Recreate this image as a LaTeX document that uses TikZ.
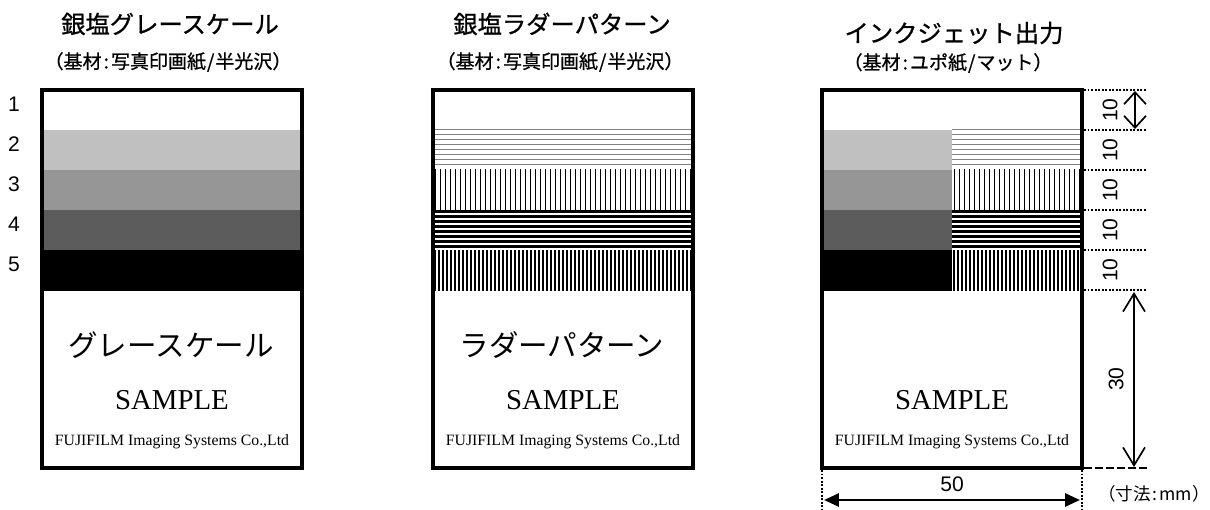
\documentclass[tikz,border=0pt]{standalone}
\usepackage{fontspec}
\usetikzlibrary{arrows.meta}
\newfontfamily\jpfont[FakeBold=0.8]{Noto Sans CJK JP}
\newfontfamily\jpplain{Noto Sans CJK JP}
\newfontfamily\numfont{Liberation Sans}
\newfontfamily\smpfont{Liberation Serif}
\definecolor{graylight}{HTML}{C0C0C0}
\definecolor{graymid}{HTML}{969696}
\definecolor{graydark}{HTML}{5C5C5C}
\definecolor{ladgray}{HTML}{808080}
\newlength\px
\setlength\px{0.025cm}
\newcommand{\half}[1]{\makebox[0.5em]{#1}}

% ladder pattern between x=#1 and x=#2
\newcommand{\ladder}[2]{%
  \begin{scope}
    \clip (#1,129) rectangle (#2,291);
    \foreach \k in {0,...,7}
      \draw[ladgray, line width=1\px] (#1,129.5+5*\k) -- (#2,129.5+5*\k);
    \foreach \k in {0,...,60}
      \draw[line width=1.2\px] (#1+2.5+5*\k,169) -- ++(0,41);
    \foreach \k in {0,...,7}
      \draw[line width=2.5\px] (#1,211.5+5*\k) -- (#2,211.5+5*\k);
    \foreach \k in {0,...,70}
      \draw[line width=2\px] (#1+2+4*\k,250) -- ++(0,41);
  \end{scope}}

\begin{document}
\begin{tikzpicture}[x=0.025cm, y=-0.025cm,
  titletext/.style={font=\jpfont\fontsize{17.3}{20}\selectfont},
  subtext/.style={font=\jpfont\fontsize{13.5}{16}\selectfont},
  unittext/.style={font=\jpplain\fontsize{12.5}{15}\selectfont, inner sep=0pt},
  numtext/.style={font=\numfont\fontsize{15}{18}\selectfont},
  dimtext/.style={font=\numfont\fontsize{15}{18}\selectfont, rotate=90},
  sheettext/.style={font=\jpplain\fontsize{21}{24}\selectfont},
  sampletext/.style={font=\smpfont\fontsize{20.5}{24}\selectfont},
  makertext/.style={font=\smpfont\fontsize{11.2}{13}\selectfont},
  frame/.style={line width=2.4pt},
  dotline/.style={line width=1.9pt, dash pattern=on 1.4pt off 1.1pt},
  dashline/.style={line width=1.5pt, dash pattern=on 5.7pt off 2.1pt},
  openarrow/.style={{Straight Barb[length=8.5pt,width=15.6pt]}-{Straight Barb[length=8.5pt,width=15.6pt]}, line width=1.2pt},
  longarrow/.style={{Straight Barb[length=12.8pt,width=15.6pt]}-{Straight Barb[length=12.8pt,width=15.6pt]}, line width=1.2pt},
  fillarrow/.style={{Triangle[length=10.6pt,width=9.2pt]}-{Triangle[length=10.6pt,width=9.2pt]}, line width=1.9pt}]
  \useasboundingbox (0,0) rectangle (1210,509);

  % Define sheet dimensions
  \def\boxtop{90}
  \def\boxbot{468}
  \def\bandh{40}

  % Titles
  \node[titletext] (t1) at (170,24) {銀塩グレースケール};
  \node[subtext] (s1) at (168,62) {（基材\half{:}写真印画紙\half{/}半光沢）};
  \node[titletext] (t2) at (562,24) {銀塩ラダーパターン};
  \node[subtext] (s2) at (560,62) {（基材\half{:}写真印画紙\half{/}半光沢）};
  \node[titletext] (t3) at (954,33) {インクジェット出力};
  \node[subtext] (s3) at (948,63) {（基材\half{:}ユポ紙\half{/}マット）};

  % Step numbers
  \foreach \k in {1,...,5}
    \node[numtext] (n\k) at (14,64+\bandh*\k) {\k};

  % Gray scale bands
  \foreach \k/\c in {1/graylight,2/graymid,3/graydark,4/black} {
    \fill[\c] (42,\boxtop+\bandh*\k) rectangle (302,\boxtop+\bandh*\k+\bandh);
    \fill[\c] (822,\boxtop+\bandh*\k) rectangle (952,\boxtop+\bandh*\k+\bandh);
  }
  \fill (42,250) rectangle (302,291);
  \fill (822,250) rectangle (952,291);

  % Ladder bands
  \ladder{433}{693}
  \ladder{952}{1082}

  % Sheet frames
  \draw[frame] (42,\boxtop) rectangle (302,\boxbot);
  \draw[frame] (433,\boxtop) rectangle (693,\boxbot);
  \draw[frame] (822,\boxtop) rectangle (1082,\boxbot);

  % Sheet texts
  \node[sheettext] (g1) at (171,345) {グレースケール};
  \node[sampletext] (p1) at (172,400) {SAMPLE};
  \node[makertext] (m1) at (172,442) {FUJIFILM Imaging Systems Co.,Ltd};
  \node[sheettext] (g2) at (562,345) {ラダーパターン};
  \node[sampletext] (p2) at (563,400) {SAMPLE};
  \node[makertext] (m2) at (563,442) {FUJIFILM Imaging Systems Co.,Ltd};
  \node[sampletext] (p3) at (952,400) {SAMPLE};
  \node[makertext] (m3) at (952,442) {FUJIFILM Imaging Systems Co.,Ltd};

  % Dimension lines on the right
  \foreach \k in {0,...,5}
    \draw[dotline] (1084,\boxtop+\bandh*\k) -- (1147,\boxtop+\bandh*\k);
  \draw[dashline] (1084,\boxbot) -- (1147,\boxbot);
  \foreach \k in {1,...,5}
    \node[dimtext] (l\k) at (1110,70+\bandh*\k) {10};
  \coordinate (a0) at (1135,91);
  \coordinate (a1) at (1135,129);
  \draw[openarrow] (a0) -- (a1);
  \coordinate (b0) at (1134,292);
  \coordinate (b1) at (1134,467);
  \draw[longarrow] (b0) -- (b1);
  \node[dimtext] (l6) at (1116,379) {30};

  % Dimension line below
  \draw[dotline] (822,470) -- (822,509);
  \draw[dotline] (1082,470) -- (1082,509);
  \coordinate (w0) at (824,500);
  \coordinate (w1) at (1080,500);
  \draw[fillarrow] (w0) -- (w1);
  \node[numtext] (l7) at (952,484) {50};
  \node[unittext] (unit) at (1154,494) {（寸法\half{:}mm）};
\end{tikzpicture}
\end{document}
